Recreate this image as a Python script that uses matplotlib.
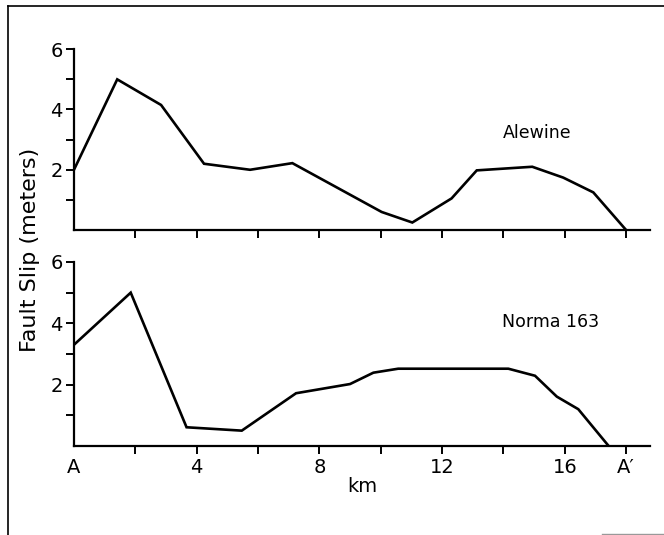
import matplotlib
matplotlib.use("Agg")
import matplotlib.pyplot as plt
from matplotlib.lines import Line2D

# Fault slip profiles along section A-A'
alewine_km = [0.0, 1.41, 2.84, 4.24, 5.74, 7.12, 10.03, 11.03, 12.31, 13.13, 14.94, 15.95, 16.93, 18.0]
alewine_slip = [2.0, 5.0, 4.15, 2.2, 2.0, 2.22, 0.6, 0.25, 1.05, 1.98, 2.1, 1.74, 1.25, 0.0]

norma_km = [0.0, 1.85, 3.67, 5.47, 7.24, 9.0, 9.76, 10.57, 14.16, 15.03, 15.74, 16.44, 17.43]
norma_slip = [3.3, 5.0, 0.61, 0.5, 1.72, 2.02, 2.39, 2.52, 2.52, 2.29, 1.61, 1.2, 0.0]

x_ticks = [0, 2, 4, 6, 8, 10, 12, 14, 16, 18]
x_labels = ['A', '', '4', '', '8', '', '12', '', '16', 'A\u2032']
y_ticks = [1, 2, 3, 4, 5, 6]
y_labels = ['', '2', '', '4', '', '6']

FS = 14

fig = plt.figure(figsize=(6.64, 5.35), dpi=100)
ax_top = fig.add_axes([0.1114, 0.570, 0.8676, 0.338])
ax_bot = fig.add_axes([0.1114, 0.1664, 0.8676, 0.3439])


def style(ax, show_xlabels):
    ax.set_xlim(0, 18.78)
    ax.set_ylim(0, 6)
    for side in ('top', 'right'):
        ax.spines[side].set_visible(False)
    for side in ('left', 'bottom'):
        ax.spines[side].set_linewidth(1.6)
    ax.set_xticks(x_ticks)
    ax.set_yticks(y_ticks)
    ax.set_yticklabels(y_labels, fontsize=FS)
    if show_xlabels:
        ax.set_xticklabels(x_labels, fontsize=FS)
    else:
        ax.set_xticklabels([])
    ax.tick_params(direction='out', length=6, width=1.4, pad=2)
    ax.tick_params(axis='x', pad=3)
    ax.xaxis.get_major_ticks()[0].tick1line.set_visible(False)


ax_top.plot(alewine_km, alewine_slip, color='black', lw=1.9, solid_joinstyle='miter')
style(ax_top, False)
ax_top.text(15.1, 3.22, 'Alewine', fontsize=12.5, ha='center', va='center')

ax_bot.plot(norma_km, norma_slip, color='black', lw=1.9, solid_joinstyle='miter')
style(ax_bot, True)
ax_bot.text(15.55, 4.04, 'Norma 163', fontsize=12.5, ha='center', va='center')
ax_bot.set_xlabel('km', fontsize=FS, labelpad=0)

fig.text(30 / 664, 1 - 250 / 535, 'Fault Slip (meters)', rotation=90,
         fontsize=16, ha='center', va='center')

# page frame
fig.add_artist(Line2D([8 / 664, 8 / 664], [0, 1 - 6 / 535], color='black', lw=1.2,
                      transform=fig.transFigure))
fig.add_artist(Line2D([8 / 664, 1], [1 - 6 / 535, 1 - 6 / 535], color='black', lw=1.2,
                      transform=fig.transFigure))
fig.add_artist(Line2D([602 / 664, 1], [1.5 / 535, 1.5 / 535], color='#999999', lw=1.0,
                      transform=fig.transFigure))

fig.savefig('out.png', dpi=100)
